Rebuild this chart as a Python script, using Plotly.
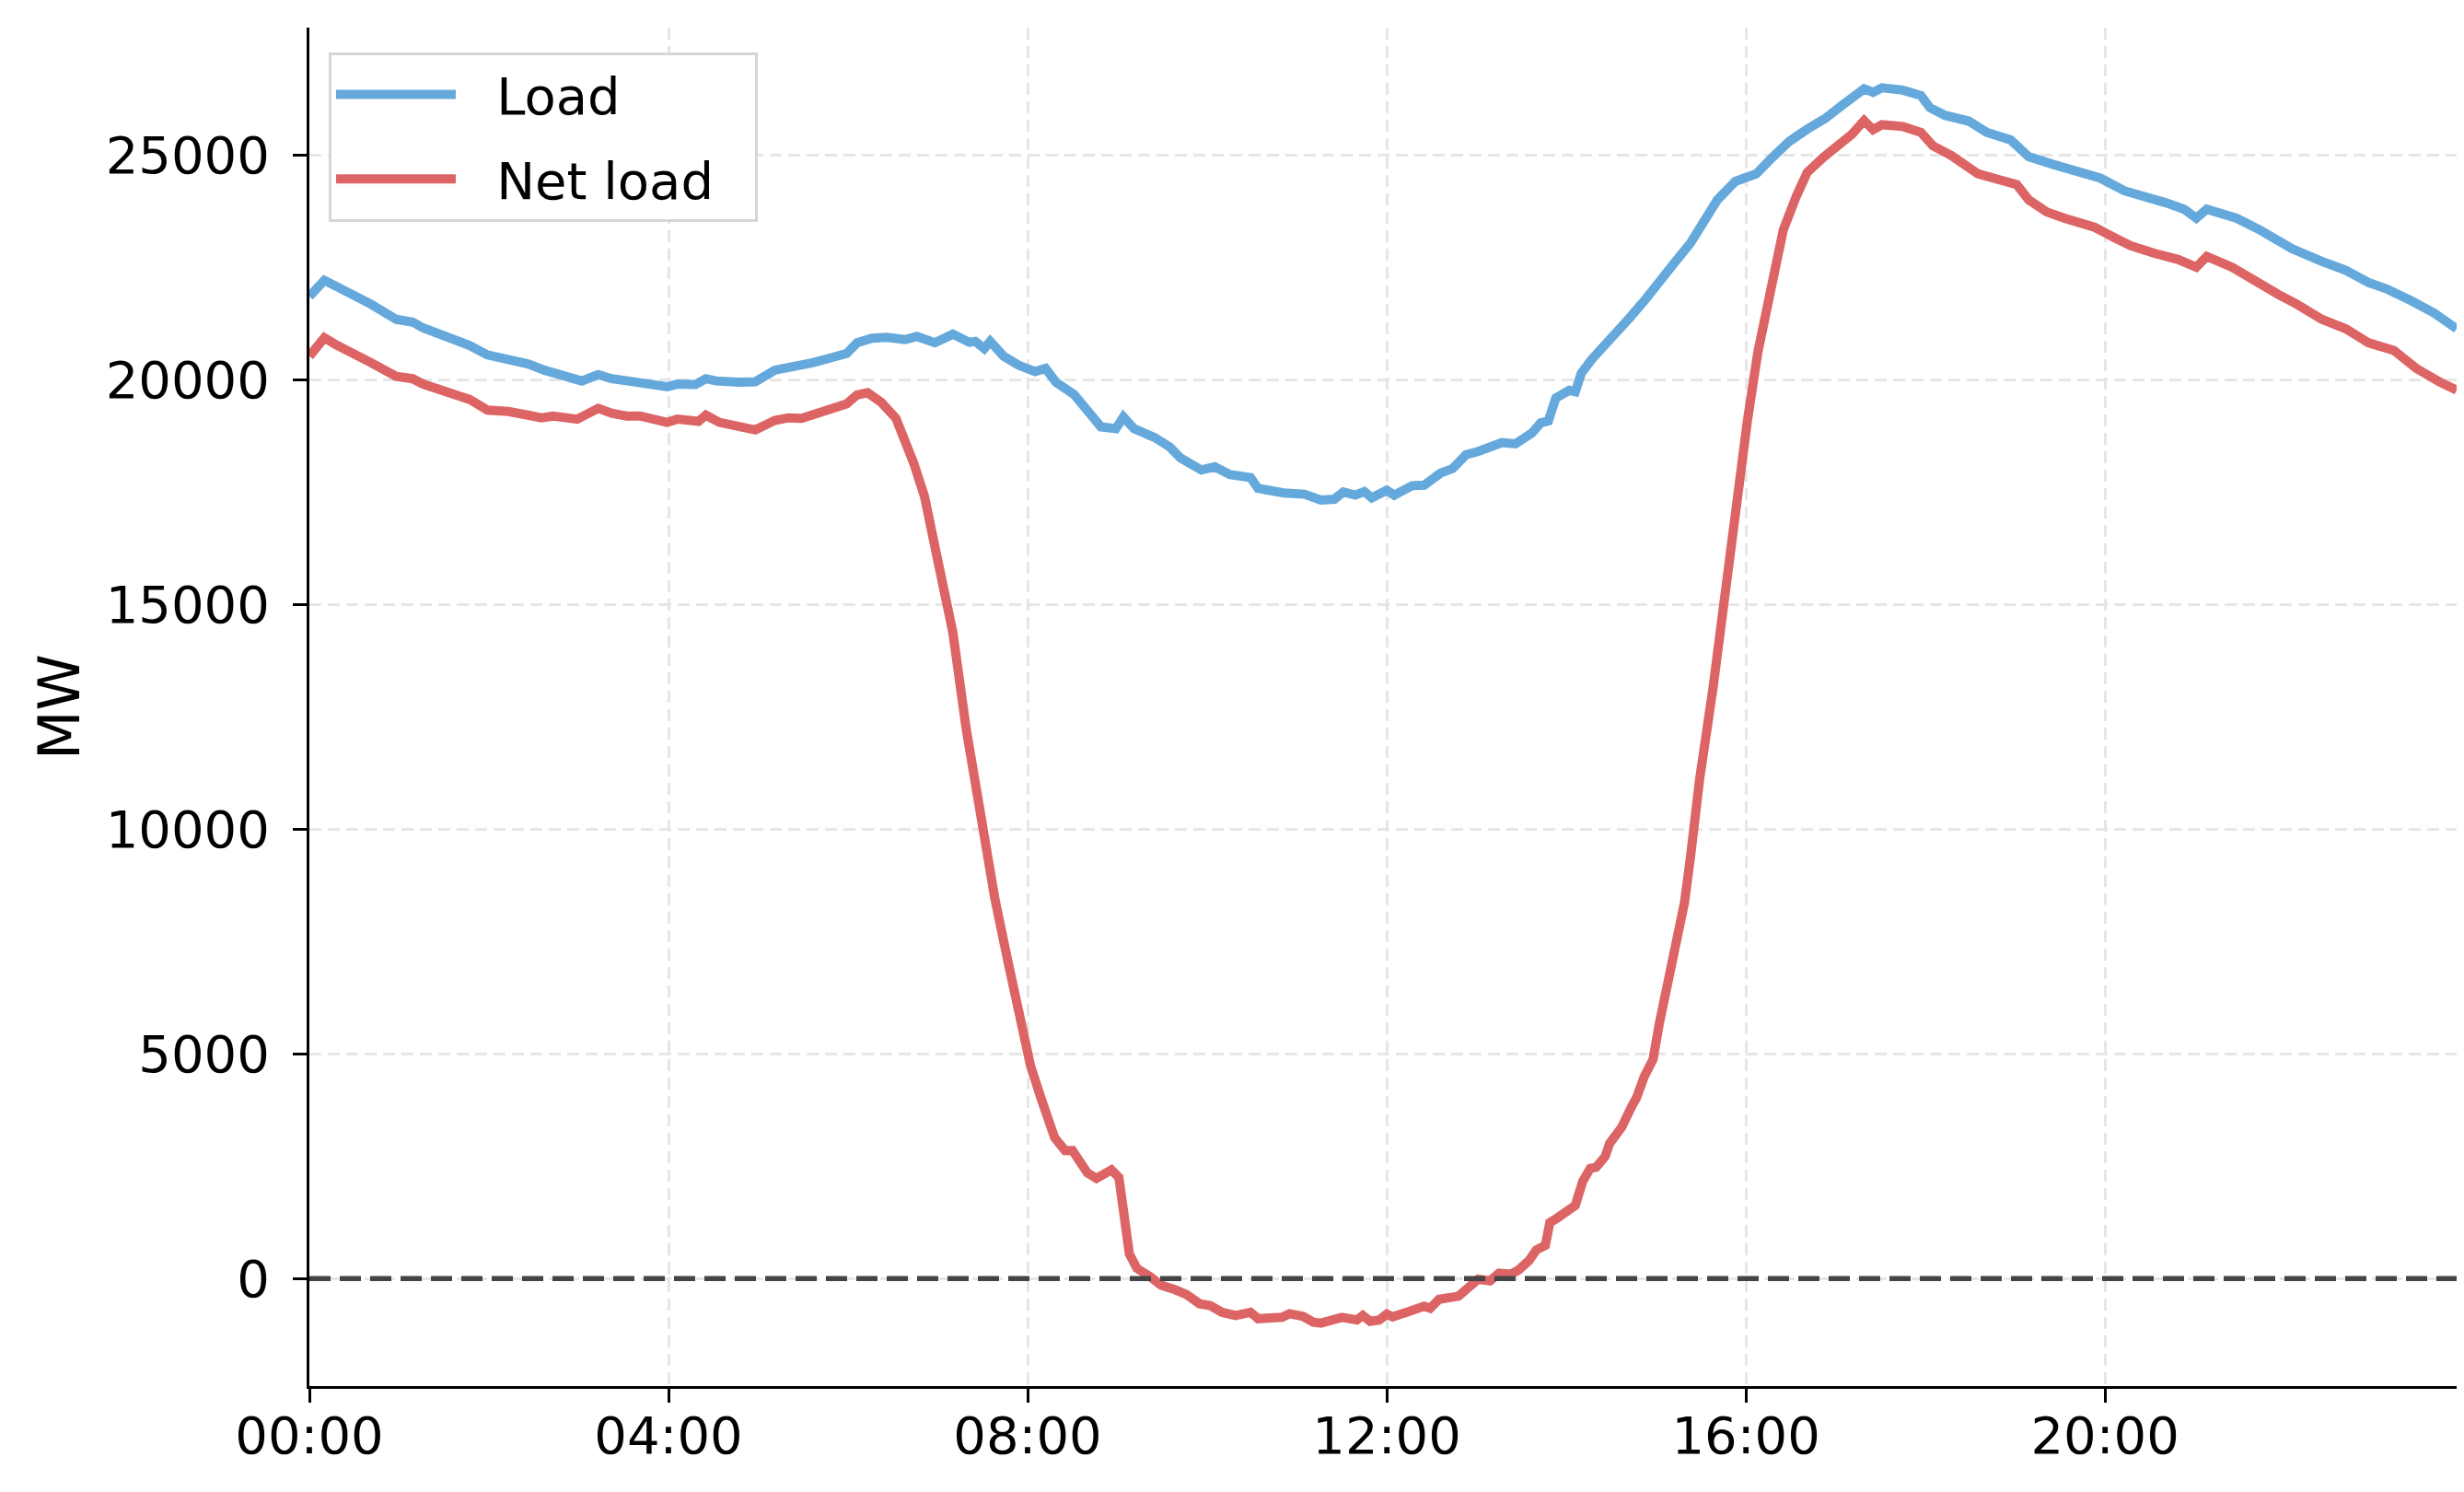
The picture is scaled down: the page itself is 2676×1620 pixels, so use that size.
import pandas as pd
import plotly.graph_objects as go

series_names = ["Load", "Net load"]

# Load (time of day, MW)
load_times = [
    "00:00", "00:10", "00:17", "00:28", "00:41", "00:58", "01:09", "01:16", "01:26", "01:47",
    "01:59", "02:13", "02:26", "02:37", "02:54", "03:02", "03:13", "03:22", "03:35", "03:49",
    "03:59", "04:06", "04:18", "04:25", "04:32", "04:47", "04:58", "05:11", "05:26", "05:37",
    "05:48", "05:59", "06:06", "06:16", "06:26", "06:38", "06:46", "06:58", "07:10", "07:21",
    "07:25", "07:31", "07:35", "07:44", "07:54", "08:05", "08:12", "08:19", "08:31", "08:40",
    "08:49", "08:59", "09:04", "09:11", "09:25", "09:35", "09:42", "09:56", "10:05", "10:15",
    "10:29", "10:34", "10:51", "11:05", "11:16", "11:25", "11:31", "11:39", "11:45", "11:50",
    "12:00", "12:05", "12:17", "12:25", "12:31", "12:36", "12:44", "12:53", "13:01", "13:11",
    "13:17", "13:26", "13:37", "13:43", "13:48", "13:53", "14:02", "14:06", "14:10", "14:17",
    "14:29", "14:43", "14:52", "15:01", "15:13", "15:23", "15:33", "15:41", "15:53", "16:07",
    "16:17", "16:29", "16:41", "16:53", "17:05", "17:19", "17:25", "17:31", "17:45", "17:57",
    "18:03", "18:13", "18:29", "18:41", "18:57", "19:09", "19:25", "19:41", "19:57", "20:13",
    "20:25", "20:41", "20:53", "21:01", "21:08", "21:28", "21:44", "21:56", "22:05", "22:25",
    "22:41", "22:56", "23:08", "23:25", "23:40", "23:55",
]
load_mw = [
    21850, 22210, 22090, 21920, 21680, 21340, 21280, 21150, 21030, 20760,
    20550, 20450, 20350, 20210, 20070, 19970, 20110, 20020, 19960, 19900,
    19840, 19900, 19890, 20020, 19970, 19940, 19950, 20210, 20280, 20380,
    20480, 20580, 20820, 20920, 20940, 20890, 20960, 20820, 21010, 20830,
    20850, 20690, 20850, 20520, 20320, 20180, 20250, 19940, 19670, 19320,
    18950, 18910, 19170, 18910, 18710, 18500, 18260, 17990, 18060, 17890,
    17820, 17580, 17480, 17450, 17320, 17340, 17500, 17430, 17510, 17370,
    17540, 17430, 17640, 17650, 17770, 17920, 18020, 18330, 18400, 18540,
    18600, 18570, 18810, 19040, 19080, 19590, 19760, 19730, 20140, 20450,
    20860, 21400, 21750, 22160, 22630, 23040, 23590, 24000, 24410, 24580,
    24920, 25300, 25570, 25810, 26120, 26470, 26390, 26490, 26440, 26320,
    26050, 25880, 25750, 25500, 25330, 24960, 24790, 24650, 24480, 24200,
    24100, 23930, 23790, 23590, 23790, 23590, 23320, 23080, 22910, 22630,
    22430, 22160, 22020, 21750, 21480, 21130,
]

# Net load (load minus renewables)
net_times = [
    "00:00", "00:10", "00:17", "00:28", "00:41", "00:58", "01:09", "01:16", "01:26", "01:47",
    "01:59", "02:13", "02:26", "02:35", "02:43", "02:59", "03:13", "03:22", "03:32", "03:41",
    "03:59", "04:06", "04:20", "04:25", "04:34", "04:47", "04:58", "05:11", "05:20", "05:29",
    "05:37", "05:48", "05:59", "06:06", "06:13", "06:22", "06:32", "06:44", "06:51", "07:00",
    "07:10", "07:19", "07:29", "07:38", "07:47", "07:57", "08:02", "08:09", "08:18", "08:25",
    "08:30", "08:40", "08:46", "08:56", "09:01", "09:08", "09:13", "09:22", "09:29", "09:38",
    "09:46", "09:55", "10:02", "10:10", "10:19", "10:29", "10:34", "10:50", "10:55", "11:04",
    "11:11", "11:16", "11:30", "11:40", "11:44", "11:49", "11:55", "12:00", "12:04", "12:13",
    "12:20", "12:25", "12:29", "12:35", "12:48", "12:53", "13:01", "13:09", "13:15", "13:23",
    "13:28", "13:35", "13:40", "13:46", "13:49", "13:54", "14:06", "14:11", "14:16", "14:20",
    "14:26", "14:29", "14:37", "14:44", "14:47", "14:52", "14:58", "15:02", "15:11", "15:19",
    "15:23", "15:29", "15:38", "15:46", "15:54", "16:01", "16:08", "16:17", "16:25", "16:34",
    "16:41", "16:52", "17:00", "17:11", "17:19", "17:25", "17:31", "17:45", "17:57", "18:05",
    "18:17", "18:25", "18:35", "18:49", "19:01", "19:09", "19:21", "19:33", "19:53", "20:05",
    "20:17", "20:33", "20:49", "21:01", "21:08", "21:25", "21:40", "21:56", "22:08", "22:25",
    "22:41", "22:56", "23:13", "23:28", "23:44", "23:55",
]
net_mw = [
    20520, 20930, 20790, 20620, 20380, 20070, 20020, 19900, 19800, 19560,
    19320, 19290, 19210, 19150, 19190, 19120, 19360, 19250, 19190, 19190,
    19050, 19120, 19070, 19210, 19050, 18950, 18880, 19090, 19150, 19140,
    19220, 19300, 19460, 19660, 19710, 19500, 19140, 18130, 17410, 15970,
    14380, 12220, 10200, 8470, 7030, 5590, 4730, 4010, 3140, 2850,
    2850, 2350, 2230, 2420, 2250, 550, 230, 40, -140, -240,
    -350, -560, -600, -750, -820, -750, -890, -860, -780, -840,
    -970, -990, -860, -920, -820, -950, -920, -790, -850, -750,
    -700, -615, -660, -460, -390, -250, -15, -50, 120, 100,
    190, 400, 640, 740, 1250, 1350, 1630, 2170, 2450, 2480,
    2720, 3010, 3370, 3850, 4030, 4490, 4880, 5650, 7010, 8370,
    9390, 11090, 13130, 15340, 17550, 19080, 20610, 22140, 23330, 24100,
    24610, 24950, 25160, 25460, 25760, 25560, 25670, 25630, 25500, 25200,
    24990, 24820, 24580, 24450, 24340, 24000, 23730, 23590, 23390, 23180,
    22980, 22810, 22670, 22500, 22740, 22500, 22190, 21890, 21680, 21340,
    21130, 20820, 20650, 20250, 19940, 19770,
]

tick_times = ["00:00", "04:00", "08:00", "12:00", "16:00", "20:00"]
y_ticks = [0, 5000, 10000, 15000, 20000, 25000]

day = "2024-01-01 "
load_x = pd.to_datetime([day + t for t in load_times])
net_x = pd.to_datetime([day + t for t in net_times])
tick_x = pd.to_datetime([day + t for t in tick_times])

# a bit of room between the legend line and its label, as in the original
pad = "\u2002\u2009"

fig = go.Figure()
fig.add_trace(go.Scatter(x=load_x, y=load_mw, mode="lines", name=pad + series_names[0] + pad,
                         legendgroup="a", line=dict(color="#65a9dc", width=10)))
fig.add_trace(go.Scatter(x=net_x, y=net_mw, mode="lines", name=pad + series_names[1] + pad,
                         legendgroup="b", line=dict(color="#dd6464", width=10)))

# zero reference line
fig.add_shape(type="line", xref="paper", x0=0, x1=1, yref="y", y0=0, y1=0,
              line=dict(color="#444444", width=5.5, dash="23px,10px"), layer="above")

fig.update_layout(
    width=2676, height=1620,
    margin=dict(l=328, r=16, t=22, b=123),
    paper_bgcolor="white", plot_bgcolor="white",
    font=dict(family="DejaVu Sans", size=56, color="black"),
    showlegend=True,
    legend=dict(x=0.009, y=0.982, xanchor="left", yanchor="top",
                bgcolor="white", bordercolor="#d6d6d6", borderwidth=3,
                itemwidth=130, tracegroupgap=16,
                font=dict(size=56)),
)

fig.update_xaxes(
    range=[pd.Timestamp(day + "00:00"), pd.Timestamp(day + "23:55")],
    tickvals=tick_x, ticktext=tick_times,
    showline=True, linecolor="black", linewidth=3,
    ticks="outside", ticklen=15, tickwidth=3, tickcolor="black",
    showgrid=True, gridcolor="#e6e6e6", gridwidth=2.5, griddash="13px,7px",
    zeroline=False, ticklabelstandoff=-12,
)
fig.update_yaxes(
    range=[-2390, 27830],
    tickvals=y_ticks, tickformat="d",
    showline=True, linecolor="black", linewidth=3,
    ticks="outside", ticklen=15, tickwidth=3, tickcolor="black",
    showgrid=True, gridcolor="#e6e6e6", gridwidth=2.5, griddash="13px,7px",
    zeroline=False, ticklabelstandoff=14,
    title=dict(text="MW", font=dict(size=62), standoff=8),
)

fig.write_html("out.html")
